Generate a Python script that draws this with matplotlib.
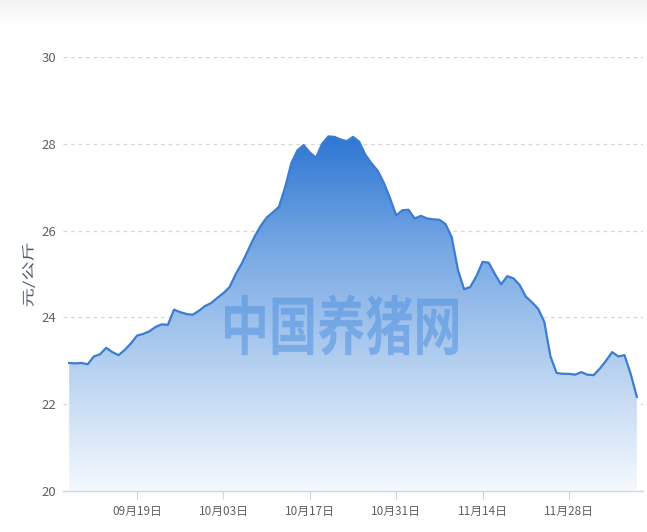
import numpy as np
import pandas as pd
import matplotlib
matplotlib.use('Agg')
import matplotlib.pyplot as plt
import matplotlib.dates as mdates
from matplotlib.colors import LinearSegmentedColormap
from matplotlib.patches import PathPatch
from matplotlib.textpath import TextPath
from matplotlib.font_manager import FontProperties
from matplotlib.transforms import Affine2D

plt.rcParams['font.family'] = ['Noto Sans CJK SC', 'DejaVu Sans']

# 生猪价格 (元/公斤), 每日
start_date = '2022-09-08'
prices = [
    22.95, 22.94, 22.95, 22.92, 23.10, 23.15, 23.30, 23.20, 23.13, 23.25,
    23.40, 23.58, 23.62, 23.68, 23.78, 23.84, 23.83, 24.18, 24.12, 24.08,
    24.06, 24.15, 24.26, 24.33, 24.45, 24.56, 24.70, 25.00, 25.25, 25.55,
    25.85, 26.10, 26.30, 26.42, 26.55, 27.00, 27.55, 27.85, 27.97, 27.80,
    27.68, 28.00, 28.17, 28.16, 28.10, 28.06, 28.16, 28.05, 27.75, 27.55,
    27.38, 27.10, 26.75, 26.35, 26.47, 26.48, 26.28, 26.34, 26.28, 26.26,
    26.25, 26.15, 25.85, 25.10, 24.65, 24.70, 24.95, 25.28, 25.26, 25.00,
    24.76, 24.95, 24.90, 24.75, 24.48, 24.35, 24.20, 23.90, 23.10, 22.72,
    22.70, 22.70, 22.68, 22.74, 22.68, 22.67, 22.82, 23.00, 23.20, 23.10,
    23.13, 22.70, 22.17,
]
tick_dates = ['2022-09-19', '2022-10-03', '2022-10-17', '2022-10-31',
              '2022-11-14', '2022-11-28']
y_ticks = [20, 22, 24, 26, 28, 30]

dates = pd.date_range(start_date, periods=len(prices), freq='D')
x = mdates.date2num(dates.to_pydatetime())
y = np.array(prices)

W, H = 647, 532
fig = plt.figure(figsize=(W / 100, H / 100), dpi=100, facecolor='white')


def stretched_text(s, cx, cy, w, h, color, alpha=1.0, weight='normal',
                   rotate=0, zorder=3):
    """按像素宽高绘制文字 (cx, cy 为像素中心, 原点左下)"""
    fp = FontProperties(family='Noto Sans CJK SC', weight=weight)
    tp = TextPath((0, 0), s, size=40, prop=fp)
    bb = tp.get_extents()
    tr = (Affine2D()
          .translate(-(bb.x0 + bb.width / 2), -(bb.y0 + bb.height / 2))
          .scale(w / bb.width, h / bb.height)
          .rotate_deg(rotate)
          .translate(cx, cy))
    p = PathPatch(tp, transform=tr, facecolor=color, edgecolor='none',
                  alpha=alpha, zorder=zorder)
    fig.add_artist(p)
    return p


# 顶部浅灰阴影条
band = fig.add_axes([0, 0.955, 1, 0.045])
band.imshow(np.linspace(0, 1, 50).reshape(-1, 1), aspect='auto',
            cmap=LinearSegmentedColormap.from_list('band', ['#ffffff', '#f1f2f4']),
            origin='lower', extent=[0, 1, 0, 1])
band.set_axis_off()

ax = fig.add_axes([63 / W, 41 / H, 580 / W, 434 / H])
ax.set_facecolor('white')

x0 = x[0] - 1
x1 = x[-1] + 1

# 渐变填充
fill = ax.fill_between(x, y, 20, color='none', lw=0)
clip = PathPatch(fill.get_paths()[0], facecolor='none', edgecolor='none',
                 transform=ax.transData)
ax.add_patch(clip)
cmap = LinearSegmentedColormap.from_list(
    'area', ['#f5f9fe', '#b9d3f1', '#7aaae5', '#2e77d3'])
grad = np.linspace(0, 1, 256).reshape(-1, 1)
im = ax.imshow(grad, extent=[x0, x1, 20, y.max()], origin='lower',
               cmap=cmap, aspect='auto', zorder=1)
im.set_clip_path(clip)

ax.plot(x, y, color='#3b7dd0', lw=1.6, zorder=3, solid_joinstyle='round')

ax.set_xlim(x0, x1)
ax.set_ylim(20, 30)

for v in y_ticks[1:]:
    ax.axhline(v, color='#d6d6d6', lw=0.9, ls=(0, (3, 3)), zorder=0.5)

ax.set_yticks(y_ticks)
ax.set_yticklabels([str(v) for v in y_ticks])
tick_x = mdates.date2num(pd.to_datetime(tick_dates).to_pydatetime())
ax.set_xticks(tick_x)
ax.set_xticklabels([pd.Timestamp(d).strftime('%m月%d日') for d in tick_dates])

ax.tick_params(axis='y', length=0, pad=5, labelsize=9.5, labelcolor='#606060')
ax.tick_params(axis='x', length=6, width=0.8, color='#ccd6eb', pad=4,
               labelsize=8.5, labelcolor='#606060')

for s in ['top', 'right', 'left']:
    ax.spines[s].set_visible(False)
ax.spines['bottom'].set_color('#ccd6eb')
ax.spines['bottom'].set_linewidth(1.0)
ax.spines['bottom'].set_zorder(4)

# 水印
stretched_text('中国养猪网', 341.5, H - 325, 233, 61, '#5192e0', alpha=0.55,
               weight='bold', zorder=2)

# 纵轴标题
stretched_text('元/公斤', 28.5, H - 275, 63, 13, '#4d5b6d', rotate=90)

fig.savefig('out.png', dpi=100, facecolor='white')
